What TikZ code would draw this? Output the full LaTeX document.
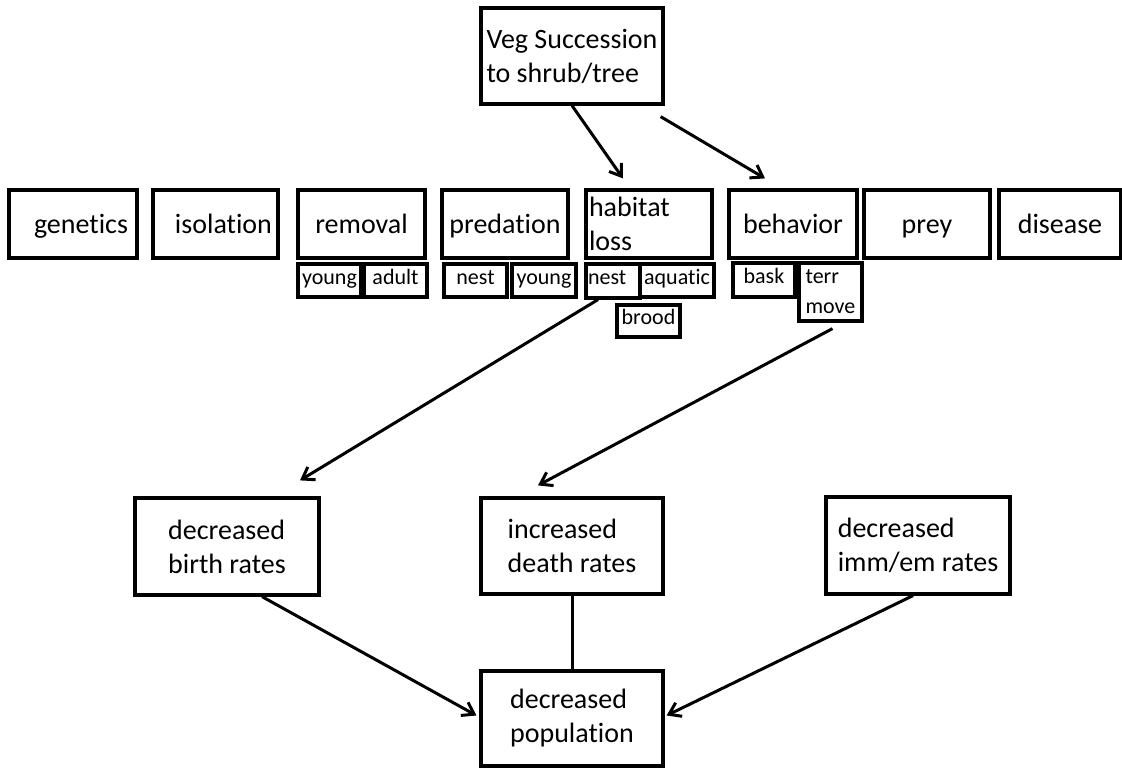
\documentclass[tikz,border=0pt]{standalone}
\usepackage{fontspec}
\setmainfont{Carlito}[Ligatures=NoCommon]
\usetikzlibrary{arrows.meta}
\begin{document}
\begin{tikzpicture}[x=1pt,y=-1pt,
  box/.style={draw, line width=3.2pt, inner xsep=2pt, inner ysep=2pt, font=\fontsize{28}{34}\selectfont},
  one/.style={text height=20pt, text depth=2pt},
  sub/.style={draw, line width=3.2pt, inner xsep=1pt, inner ysep=1pt, font=\fontsize{22}{30}\selectfont},
  sone/.style={text height=12pt, text depth=5pt},
  arr/.style={line width=3pt, -{Straight Barb[length=11pt,width=15pt]}},
  link/.style={line width=3pt}]
\useasboundingbox[fill=white] (0,0) rectangle (1122,768);
% top
\node[box, align=left, minimum width=182pt, minimum height=96pt] (veg) at (572,56) {Veg Succession\\to shrub/tree};
% main row
\node[box, one, minimum height=68pt, text width=110pt, align=right, inner xsep=9pt] (gen) at (73,224) {genetics};
\node[box, one, minimum height=68pt, text width=113pt, align=right, inner xsep=6pt] (iso) at (215.5,224) {isolation};
\node[box, one, minimum width=127pt, minimum height=68pt] (rem) at (361.5,224) {removal};
\node[box, one, minimum width=126pt, minimum height=68pt] (pred) at (505,224) {predation};
\node[box, minimum height=68pt, text width=120pt, align=left, inner xsep=3pt] (hab) at (649,224) {habitat\\loss};
\node[box, one, minimum width=128pt, minimum height=68pt] (beh) at (793,224) {behavior};
\node[box, one, minimum width=126pt, minimum height=68pt] (prey) at (927,224) {prey};
\node[box, one, minimum width=122pt, minimum height=68pt] (dis) at (1060,224) {disease};
% sub boxes
\node[sub, sone, minimum width=63pt, minimum height=33pt] (ryoung) at (329.5,280.5) {young};
\node[sub, sone, minimum width=63pt, minimum height=33pt] (radult) at (395.5,280.5) {adult};
\node[sub, sone, minimum width=63pt, minimum height=33pt] (pnest) at (475.5,280.5) {nest};
\node[sub, sone, minimum width=64pt, minimum height=33pt] (pyoung) at (544,280.5) {young};
\node[sub, sone, minimum width=74pt, minimum height=33pt] (haq) at (677,280.5) {aquatic};
\node[sub, sone, minimum height=34pt, text width=50pt, align=left, inner xsep=2pt] (hnest) at (613,281) {nest};
\node[sub, sone, minimum width=63pt, minimum height=32pt] (hbrood) at (648.5,321) {brood};
\node[sub, sone, minimum width=62pt, minimum height=34pt] (bbask) at (764,280) {bask};
\node[sub, align=left, minimum width=63pt, minimum height=58pt] (bterr) at (830.5,292) {terr\\move};
% bottom
\node[box, align=left, minimum width=184pt, minimum height=97pt] (birth) at (227,546.5) {decreased\\birth rates};
\node[box, align=left, minimum width=182pt, minimum height=96pt] (death) at (572,546) {increased\\death rates};
\node[box, align=left, minimum width=184pt, minimum height=97pt] (imm) at (918,545.5) {decreased\\imm/em rates};
\node[box, align=left, minimum width=182pt, minimum height=95pt] (pop) at (572,718.5) {decreased\\population};
% connectors
\draw[arr] (veg.south) -- ([xshift=-26pt,yshift=10pt]hab.north);
\draw[arr] ([xshift=-4pt,yshift=-11pt]veg.south east) -- ([xshift=-28pt,yshift=10pt]beh.north);
\draw[arr] ([xshift=-15pt]hnest.south) -- ([xshift=73pt,yshift=16pt]birth.north);
\draw[arr] ([xshift=2pt,yshift=-6pt]bterr.south) -- ([xshift=-34pt,yshift=11pt]death.north);
\draw[arr] ([xshift=35pt]birth.south) -- ([xshift=-3pt,yshift=3pt]pop.west);
\draw[arr] ([xshift=-5pt]imm.south) -- ([xshift=2pt,yshift=3pt]pop.east);
\draw[link] (death.south) -- (pop.north);
\end{tikzpicture}
\end{document}
